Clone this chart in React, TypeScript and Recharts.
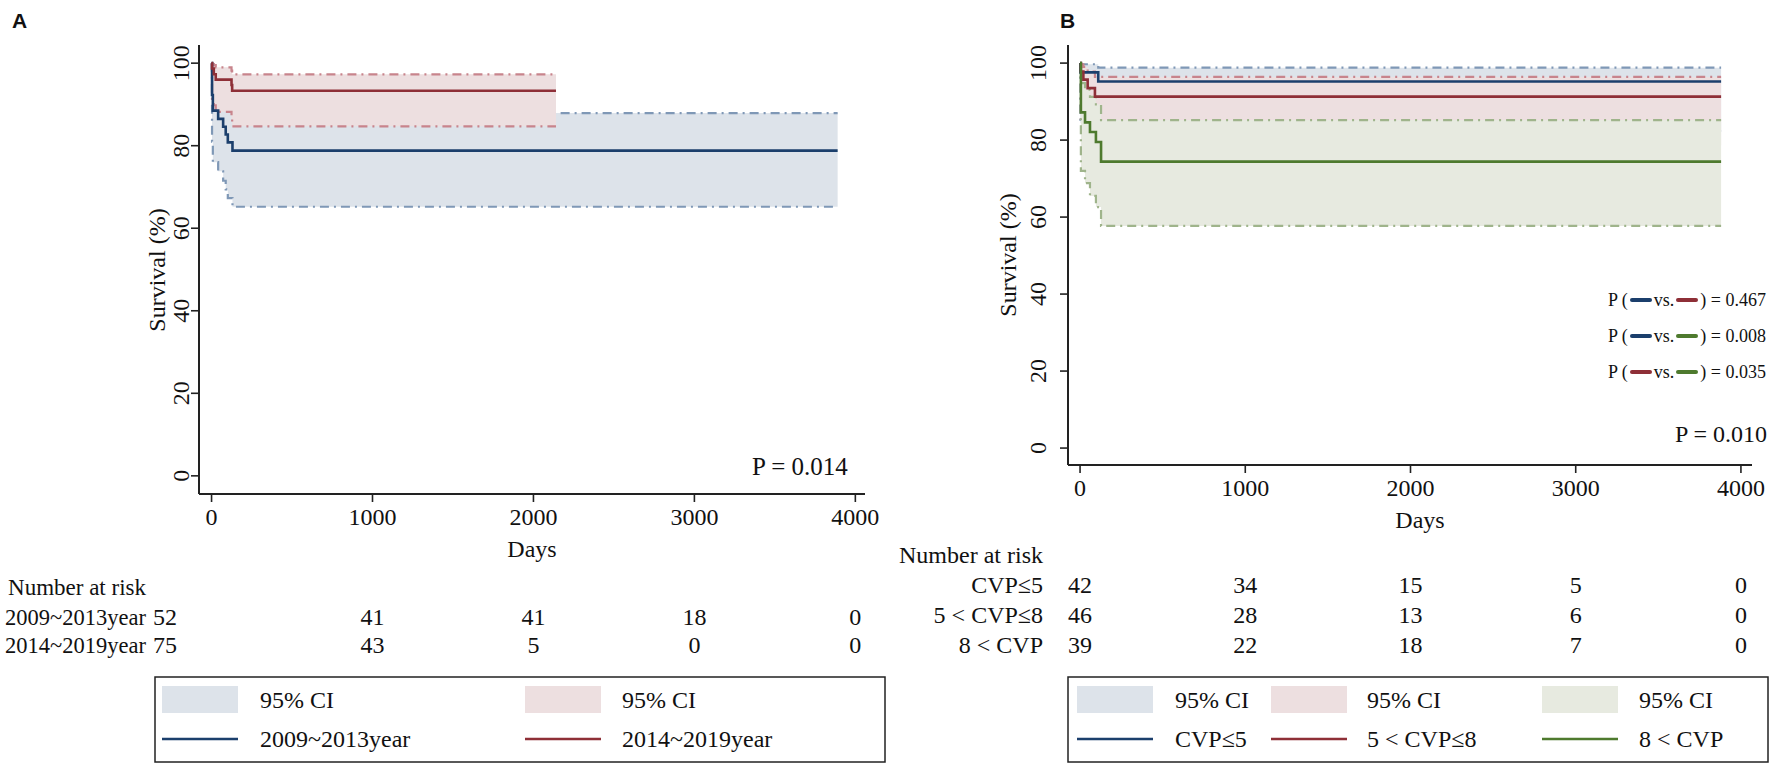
import React from 'react'
import { ComposedChart, Area, Line, XAxis, YAxis } from 'recharts'

const SERIF = '"Liberation Serif", "Times New Roman", serif'
const SANS = '"Liberation Sans", Arial, sans-serif'

const dayTicks = [0, 1000, 2000, 3000, 4000]
const survTicks = [0, 20, 40, 60, 80, 100]

// Panel A, 2009~2013year
const a1Days = [0, 3, 8, 41, 72, 88, 101, 130, 3890]
const a1Surv = [100, 92.3, 88.5, 86.5, 84.6, 82.7, 80.8, 78.8, 78.8]
const a1Low = [100, 81.0, 76.0, 73.8, 71.5, 69.4, 67.3, 65.2, 65.2]
const a1High = [100, 97.5, 95.4, 94.1, 92.8, 91.4, 89.7, 87.9, 87.9]

// Panel A, 2014~2019year
const a2Days = [0, 3, 14, 26, 124, 128, 2140]
const a2Surv = [100, 98.7, 97.3, 96.0, 94.7, 93.3, 93.3]
const a2Low = [100, 91.0, 89.8, 88.2, 86.4, 84.7, 84.7]
const a2High = [100, 99.8, 99.5, 99.0, 98.2, 97.3, 97.3]

// Panel B, CVP<=5
const b1Days = [0, 2, 110, 3880]
const b1Surv = [100, 97.6, 95.2, 95.2]
const b1Low = [100, 84.5, 82.4, 82.4]
const b1High = [100, 99.7, 98.8, 98.8]

// Panel B, 5<CVP<=8
const b2Days = [0, 5, 20, 46, 90, 3880]
const b2Surv = [100, 97.8, 95.7, 93.5, 91.3, 91.3]
const b2Low = [100, 85.5, 83.9, 81.2, 78.6, 78.6]
const b2High = [100, 99.7, 99.0, 97.8, 96.4, 96.4]

// Panel B, 8<CVP
const b3Days = [0, 5, 30, 60, 96, 127, 3880]
const b3Surv = [100, 87.2, 84.6, 82.1, 79.5, 74.4, 74.4]
const b3Low = [100, 72.0, 68.8, 65.5, 62.6, 57.7, 57.7]
const b3High = [100, 94.8, 93.1, 91.2, 89.3, 85.2, 85.2]

// number at risk
const riskLabelsA = ['2009~2013year', '2014~2019year']
const riskA1 = [52, 41, 41, 18, 0]
const riskA2 = [75, 43, 5, 0, 0]
const riskLabelsB = ['CVP≤5', '5 < CVP≤8', '8 < CVP']
const riskB1 = [42, 34, 15, 5, 0]
const riskB2 = [46, 28, 13, 6, 0]
const riskB3 = [39, 22, 18, 7, 0]

const pairP = [
  { a: 'navy', b: 'maroon', p: '0.467' },
  { a: 'navy', b: 'green', p: '0.008' },
  { a: 'maroon', b: 'green', p: '0.035' },
]

const C: Record<string, string> = {
  navy: '#1b3f6c',
  maroon: '#8e2f37',
  green: '#4e7a2e',
  blueFill: '#dde3ea',
  pinkFill: '#eddfe0',
  greenFill: '#e7eae0',
  blueDash: '#7f98b6',
  pinkDash: '#c8848c',
  greenDash: '#9fb48b',
}

const rows = (d: number[], s: number[], lo: number[], hi: number[]) =>
  d.map((x, i) => ({ d: x, s: s[i], ci: [lo[i], hi[i]] }))

const rowsA1 = rows(a1Days, a1Surv, a1Low, a1High)
const rowsA2 = rows(a2Days, a2Surv, a2Low, a2High)
const rowsB1 = rows(b1Days, b1Surv, b1Low, b1High)
const rowsB2 = rows(b2Days, b2Surv, b2Low, b2High)
const rowsB3 = rows(b3Days, b3Surv, b3Low, b3High)

const xDomA: [number, number] = [-78, 4060]
const xDomB: [number, number] = [-73, 4067]

// plot boxes (page pixels) used for placing the text around the charts
const A = { left: 199, right: 865, top: 45, bottom: 494 }
const B = { left: 1068, right: 1752, top: 45, bottom: 465 }
const xA = (d: number) => A.left + ((d - xDomA[0]) * (A.right - A.left)) / (xDomA[1] - xDomA[0])
const xB = (d: number) => B.left + ((d - xDomB[0]) * (B.right - B.left)) / (xDomB[1] - xDomB[0])

const XTick = (props: any) => {
  const { x, y, payload } = props
  return (
    <text x={x} y={y + 13} textAnchor="middle" dominantBaseline="central" fontFamily={SERIF} fontSize={24} fill="#111">
      {payload.value}
    </text>
  )
}

const YTick = (props: any) => {
  const { x, y, payload, shift } = props
  const cx = x - shift
  return (
    <text x={cx} y={y} transform={`rotate(-90 ${cx} ${y})`} textAnchor="middle" dominantBaseline="central" fontFamily={SERIF} fontSize={24} fill="#111">
      {payload.value}
    </text>
  )
}

const axisLine = { stroke: '#222', strokeWidth: 2 }
const tickLine = { stroke: '#222', strokeWidth: 1.6 }
const dash = '9 5 2 5'

function band(data: any[], fill: string, stroke: string) {
  return (
    <Area
      data={data}
      dataKey="ci"
      type="stepAfter"
      fill={fill}
      fillOpacity={1}
      stroke={stroke}
      strokeWidth={2.2}
      strokeDasharray={dash}
      dot={false}
      activeDot={false}
      isAnimationActive={false}
    />
  )
}

function curve(data: any[], color: string) {
  return (
    <Line data={data} dataKey="s" type="stepAfter" stroke={color} strokeWidth={2.6} dot={false} activeDot={false} isAnimationActive={false} />
  )
}

function Txt({ x, y, children, anchor = 'start', size = 24 }: any) {
  return (
    <text x={x} y={y} textAnchor={anchor} dominantBaseline="central" fontFamily={SERIF} fontSize={size} fill="#111">
      {children}
    </text>
  )
}

function Seg({ color }: { color: string }) {
  return <span style={{ display: 'inline-block', width: 22, height: 4, borderRadius: 2, background: color, margin: '0 2px' }} />
}

export default function App() {
  const chartH = 600
  return (
    <div style={{ position: 'absolute', left: 0, top: 0, width: 1772, height: 771, background: '#fff' }}>
      <div style={{ position: 'absolute', left: 0, top: 0 }}>
        <ComposedChart width={900} height={chartH} margin={{ top: A.top, right: 900 - A.right, bottom: 0, left: 0 }}>
          <XAxis type="number" dataKey="d" domain={xDomA} ticks={dayTicks} allowDataOverflow interval={0} height={chartH - A.bottom} axisLine={axisLine} tickLine={tickLine} tickSize={8} tick={<XTick />} />
          <YAxis type="number" domain={[-4.4, 104.4]} ticks={survTicks} allowDataOverflow interval={0} width={A.left} axisLine={axisLine} tickLine={tickLine} tickSize={8} tick={<YTick shift={8} />} />
          {band(rowsA1, C.blueFill, C.blueDash)}
          {band(rowsA2, C.pinkFill, C.pinkDash)}
          {curve(rowsA1, C.navy)}
          {curve(rowsA2, C.maroon)}
        </ComposedChart>
      </div>
      <div style={{ position: 'absolute', left: 900, top: 0 }}>
        <ComposedChart width={872} height={chartH} margin={{ top: B.top, right: 1772 - B.right, bottom: 0, left: 0 }}>
          <XAxis type="number" dataKey="d" domain={xDomB} ticks={dayTicks} allowDataOverflow interval={0} height={chartH - B.bottom} axisLine={axisLine} tickLine={tickLine} tickSize={8} tick={<XTick />} />
          <YAxis type="number" domain={[-4.4, 104.7]} ticks={survTicks} allowDataOverflow interval={0} width={B.left - 900} axisLine={axisLine} tickLine={tickLine} tickSize={8} tick={<YTick shift={20} />} />
          {band(rowsB1, C.blueFill, C.blueDash)}
          {band(rowsB2, C.pinkFill, C.pinkDash)}
          {band(rowsB3, C.greenFill, C.greenDash)}
          {curve(rowsB1, C.navy)}
          {curve(rowsB2, C.maroon)}
          {curve(rowsB3, C.green)}
        </ComposedChart>
      </div>

      <svg width={1772} height={771} style={{ position: 'absolute', left: 0, top: 0, pointerEvents: 'none' }}>
        <text x={12} y={28} fontFamily={SANS} fontWeight="bold" fontSize={21} fill="#111">A</text>
        <text x={1060} y={28} fontFamily={SANS} fontWeight="bold" fontSize={21} fill="#111">B</text>

        <text x={157} y={270} transform="rotate(-90 157 270)" textAnchor="middle" dominantBaseline="central" fontFamily={SERIF} fontSize={24} fill="#111">Survival (%)</text>
        <text x={1008} y={255} transform="rotate(-90 1008 255)" textAnchor="middle" dominantBaseline="central" fontFamily={SERIF} fontSize={24} fill="#111">Survival (%)</text>

        <Txt x={532} y={549} anchor="middle">Days</Txt>
        <Txt x={1420} y={520} anchor="middle">Days</Txt>

        <Txt x={752} y={466} size={25}>P = 0.014</Txt>
        <Txt x={1767} y={434} anchor="end">P = 0.010</Txt>

        {/* risk table A */}
        <Txt x={146} y={587} anchor="end" size={23}>Number at risk</Txt>
        {[riskA1, riskA2].map((r, i) => (
          <g key={i}>
            <Txt x={146} y={617 + i * 28} anchor="end" size={22.5}>{riskLabelsA[i]}</Txt>
            {r.map((v, j) => (
              <Txt key={j} x={j === 0 ? 165 : xA(dayTicks[j])} y={617 + i * 28} anchor="middle">{v}</Txt>
            ))}
          </g>
        ))}

        {/* risk table B */}
        <Txt x={1043} y={555} anchor="end">Number at risk</Txt>
        {[riskB1, riskB2, riskB3].map((r, i) => (
          <g key={i}>
            <Txt x={1043} y={585 + i * 30} anchor="end">{riskLabelsB[i]}</Txt>
            {r.map((v, j) => (
              <Txt key={j} x={xB(dayTicks[j])} y={585 + i * 30} anchor="middle">{v}</Txt>
            ))}
          </g>
        ))}

        {/* legend A */}
        <rect x={155} y={677} width={730} height={85} fill="none" stroke="#222" strokeWidth={1.5} />
        <rect x={162} y={686} width={76} height={27} fill={C.blueFill} />
        <Txt x={260} y={700}>95% CI</Txt>
        <rect x={525} y={686} width={76} height={27} fill={C.pinkFill} />
        <Txt x={622} y={700}>95% CI</Txt>
        <line x1={162} x2={238} y1={739} y2={739} stroke={C.navy} strokeWidth={2.6} />
        <Txt x={260} y={739}>2009~2013year</Txt>
        <line x1={525} x2={601} y1={739} y2={739} stroke={C.maroon} strokeWidth={2.6} />
        <Txt x={622} y={739}>2014~2019year</Txt>

        {/* legend B */}
        <rect x={1068} y={677} width={700} height={85} fill="none" stroke="#222" strokeWidth={1.5} />
        <rect x={1077} y={686} width={76} height={27} fill={C.blueFill} />
        <Txt x={1175} y={700}>95% CI</Txt>
        <rect x={1271} y={686} width={76} height={27} fill={C.pinkFill} />
        <Txt x={1367} y={700}>95% CI</Txt>
        <rect x={1542} y={686} width={76} height={27} fill={C.greenFill} />
        <Txt x={1639} y={700}>95% CI</Txt>
        <line x1={1077} x2={1153} y1={739} y2={739} stroke={C.navy} strokeWidth={2.6} />
        <Txt x={1175} y={739}>{riskLabelsB[0]}</Txt>
        <line x1={1271} x2={1347} y1={739} y2={739} stroke={C.maroon} strokeWidth={2.6} />
        <Txt x={1367} y={739}>{riskLabelsB[1]}</Txt>
        <line x1={1542} x2={1618} y1={739} y2={739} stroke={C.green} strokeWidth={2.6} />
        <Txt x={1639} y={739}>{riskLabelsB[2]}</Txt>
      </svg>

      {pairP.map((r, i) => (
        <div
          key={i}
          style={{
            position: 'absolute',
            right: 1772 - 1766,
            top: 300 + i * 36 - 12,
            height: 24,
            display: 'flex',
            alignItems: 'center',
            whiteSpace: 'nowrap',
            fontFamily: SERIF,
            fontSize: 18,
            color: '#111',
          }}
        >
          <span>P (</span>
          <Seg color={C[r.a]} />
          <span>vs.</span>
          <Seg color={C[r.b]} />
          <span>) = {r.p}</span>
        </div>
      ))}
    </div>
  )
}
